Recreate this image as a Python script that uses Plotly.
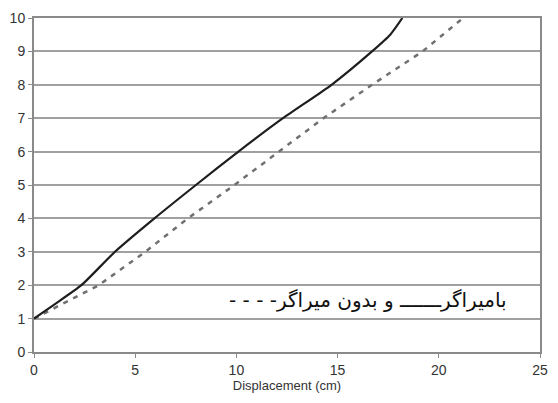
import plotly.graph_objects as go

# Load vs displacement, with and without damper
disp_damped = [0, 1.0, 2.34, 4.0, 5.95, 8.0, 10.1, 12.3, 14.7, 16.7, 17.6, 18.2]
val_damped = [1, 1.42, 2, 3, 4, 5, 6, 7, 8, 9, 9.5, 10]

disp_plain = [0, 1.3, 3.2, 5.5, 7.6, 9.9, 12.1, 14.3, 16.7, 19.2, 21.2]
val_plain = [1, 1.4, 2, 3, 4, 5, 6, 7, 8, 9, 10]

x_ticks = [0, 5, 10, 15, 20, 25]
y_ticks = list(range(0, 11))

legend_text = "- - - -" + "بامیراگرـــــــ و بدون میراگر"

fig = go.Figure()
fig.add_trace(go.Scatter(
    x=disp_plain, y=val_plain, mode="lines",
    line=dict(color="#707070", width=2.5, dash="5px,6px"),
    showlegend=False,
))
fig.add_trace(go.Scatter(
    x=disp_damped, y=val_damped, mode="lines", line_shape="spline",
    line=dict(color="#1e1e1e", width=2.2, smoothing=0.6),
    showlegend=False,
))

fig.add_annotation(
    x=16.5, y=1.55, xref="x", yref="y", text=legend_text, showarrow=False,
    font=dict(family="DejaVu Sans", size=20, color="#111"),
    xanchor="center", yanchor="middle",
)

axis_font = dict(family="Liberation Sans, Arial, sans-serif", size=14, color="#333")
fig.update_xaxes(
    range=[0, 25], tickvals=x_ticks, showgrid=False, zeroline=False,
    showline=True, linecolor="#8a8a8a", linewidth=2, mirror=True,
    ticks="outside", ticklen=4, tickcolor="#8a8a8a",
    tickfont=axis_font,
    title=dict(text="Displacement (cm)", font=dict(family="Liberation Sans, Arial, sans-serif", size=13, color="#333"), standoff=4),
)
fig.update_yaxes(
    range=[0, 10], tickvals=y_ticks, showgrid=True, gridcolor="#a0a0a0", gridwidth=1.5,
    zeroline=False, showline=True, linecolor="#8a8a8a", linewidth=2, mirror=True,
    ticks="outside", ticklen=4, tickcolor="#8a8a8a",
    tickfont=axis_font,
)
fig.update_layout(
    width=558, height=403,
    margin=dict(l=30, r=10, t=15, b=51),
    paper_bgcolor="white", plot_bgcolor="white",
)
fig.write_html("out.html")
